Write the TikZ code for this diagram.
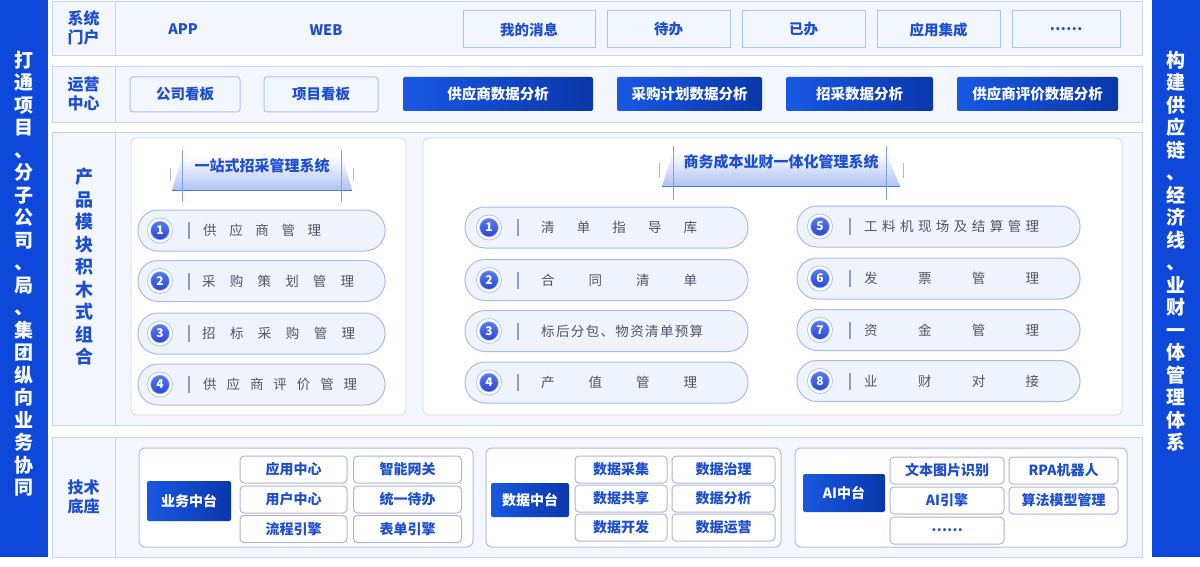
\documentclass[tikz,border=0pt]{standalone}
\usepackage{fontspec}
\setmainfont{Noto Sans CJK SC}
\definecolor{barBlue}{HTML}{0E48DA}
\definecolor{rowFill}{HTML}{F3F6FD}
\definecolor{rowBorder}{HTML}{C9D5F2}
\definecolor{portalFill}{HTML}{F2F6FE}
\definecolor{portalBorder}{HTML}{ADC3F2}
\definecolor{txtBlue}{HTML}{1D4ED0}
\definecolor{darkA}{HTML}{1858E2}
\definecolor{darkB}{HTML}{0A37AA}
\definecolor{panelBorder}{HTML}{D5DAE8}
\definecolor{pillFill}{HTML}{EFF3FC}
\definecolor{pillBorder}{HTML}{A7BCEC}
\definecolor{numA}{HTML}{5B7DF2}
\definecolor{numB}{HTML}{2443D4}
\definecolor{ringBlue}{HTML}{A9BFF0}
\definecolor{pillGray}{HTML}{4E5566}
\definecolor{divGray}{HTML}{8E9CC6}
\definecolor{groupBorder}{HTML}{B5BED8}
\definecolor{tileBorder}{HTML}{AFB8D2}
\definecolor{ribbonBlue}{HTML}{AFC3F3}
\definecolor{ribbonLine}{HTML}{4F76DE}
\newcommand{\barFont}{\fontsize{19}{22.5}\selectfont\bfseries}
\newcommand{\labelFont}{\fontsize{16}{19}\selectfont\bfseries}
\newcommand{\boxFont}{\fontsize{14.5}{17}\selectfont\bfseries}
\newcommand{\tileFont}{\fontsize{14}{16}\selectfont\bfseries}
\newcommand{\pillFont}{\fontsize{13.5}{16}\selectfont}
\newcommand{\spreadText}[2]{\hbox to #1{#2}}
\begin{document}
\begin{tikzpicture}[x=1pt,y=-1pt,
		sideBar/.style={rectangle, fill=barBlue, inner sep=0pt, minimum width=48, minimum height=557},
		sideText/.style={align=center, font=\barFont, text=white},
		rowBox/.style={rectangle, draw=rowBorder, fill=rowFill, line width=0.8pt, inner sep=0pt, minimum width=1090},
		rowLabel/.style={rectangle, draw=rowBorder, fill=rowFill, line width=0.8pt, inner sep=0pt, minimum width=63, align=center, font=\labelFont, text=txtBlue},
		portalBox/.style={rectangle, draw=portalBorder, fill=portalFill, line width=1pt, inner sep=0pt, minimum height=37, font=\boxFont, text=txtBlue},
		boardBox/.style={portalBox, rounded corners=3, minimum height=35},
		darkBox/.style={rectangle, rounded corners=2, left color=darkA, right color=darkB, inner sep=0pt, minimum height=34, font=\boxFont, text=white},
		panelBox/.style={rectangle, rounded corners=6, draw=panelBorder, fill=white, line width=0.8pt, minimum height=277},
		titleText/.style={font=\fontsize{15}{17}\selectfont\bfseries, text=txtBlue},
		pillBox/.style={rectangle, rounded corners=20, draw=pillBorder, fill=pillFill, line width=1pt, minimum height=41},
		numCircle/.style={circle, inner sep=0pt, minimum size=22, draw=ringBlue, line width=0.8pt, double=white, double distance=2.2pt, top color=numA, bottom color=numB, font=\fontsize{12}{12}\selectfont\bfseries, text=white},
		pillDivider/.style={rectangle, fill=divGray, inner sep=0pt, minimum width=1.2, minimum height=17},
		pillText/.style={anchor=west, inner sep=0pt, font=\pillFont, text=pillGray},
		groupBox/.style={rectangle, rounded corners=6, draw=groupBorder, fill=white, line width=1pt, minimum height=99},
		tileBox/.style={rectangle, rounded corners=4, draw=tileBorder, fill=white, line width=1pt, inner sep=0pt, minimum height=27, font=\tileFont, text=txtBlue}]
			\useasboundingbox (0,0) rectangle (1200,567);

			\node[sideBar](leftBar) at (24,278.5){};
			\node[sideText](leftText) at (24,274){打\\通\\项\\目\\、\\分\\子\\公\\司\\、\\局\\、\\集\\团\\纵\\向\\业\\务\\协\\同};
			\node[sideBar](rightBar) at (1176,278.5){};
			\node[sideText](rightText) at (1176,251.5){构\\建\\供\\应\\链\\、\\经\\济\\线\\、\\业\\财\\一\\体\\管\\理\\体\\系};

			\node[rowBox, minimum height=54](portalRow) at (597,28){};
			\node[rowLabel, minimum height=54](portalLabel) at (83.5,28){系统\\门户};
			\node[font=\boxFont, text=txtBlue](appText) at (183,29){APP};
			\node[font=\boxFont, text=txtBlue](webText) at (326,30){WEB};
			\node[portalBox, minimum width=132](msgBox) at (529,29.5){我的消息};
			\node[portalBox, minimum width=123](todoBox) at (668.5,29.5){待办};
			\node[portalBox, minimum width=123](doneBox) at (803.5,29.5){已办};
			\node[portalBox, minimum width=123](integBox) at (938.5,29.5){应用集成};
			\node[portalBox, minimum width=108](moreBox) at (1066,29.5){\textbf{……}};

			\node[rowBox, minimum height=56](opsRow) at (597,94){};
			\node[rowLabel, minimum height=56](opsLabel) at (83.5,94){运营\\中心};
			\node[boardBox, minimum width=110](companyBox) at (185,94.5){公司看板};
			\node[boardBox, minimum width=114](projectBox) at (321,94.5){项目看板};
			\node[darkBox, minimum width=190](supplierBox) at (498,94){供应商数据分析};
			\node[darkBox, minimum width=145](planBox) at (689.5,94){采购计划数据分析};
			\node[darkBox, minimum width=147](tenderBox) at (859.5,94){招采数据分析};
			\node[darkBox, minimum width=161](evalBox) at (1037.5,94){供应商评价数据分析};

			\node[rowBox, minimum height=293](moduleRow) at (597,278.5){};
			\node[rowLabel, minimum height=293](moduleLabel) at (83.5,278.5){};
			\node[align=center, font=\fontsize{18}{22.5}\selectfont\bfseries, text=txtBlue](moduleText) at (84,267){产\\品\\模\\块\\积\\木\\式\\组\\合};

			\node[panelBox, minimum width=275](procPanel) at (268.5,276.5){};
			\shade[top color=white, bottom color=ribbonBlue] (182,156) -- (342,156) -- (352,190) -- (172,190) -- cycle;
			\draw[ribbonLine, line width=0.8pt] (172,190) -- (352,190);
			\draw[ribbonLine!70, line width=0.8pt] (182,150) -- (182,202);
			\draw[ribbonLine!70, line width=0.8pt] (341,150) -- (341,202);
			\draw[ribbonLine!50, line width=0.8pt] (170,168) -- (170,181);
			\draw[ribbonLine!50, line width=0.8pt] (353,168) -- (353,181);
			\node[titleText](procTitle) at (262,166){一站式招采管理系统};

			\node[pillBox, minimum width=247](procPill1) at (261.5,230.5){};
			\node[pillBox, minimum width=247](procPill2) at (261.5,281){};
			\node[pillBox, minimum width=247](procPill3) at (261.5,333.5){};
			\node[pillBox, minimum width=247](procPill4) at (261.5,384.5){};
			\node[numCircle](procNum1) at (160,230.5){1};
			\node[numCircle](procNum2) at (160,281){2};
			\node[numCircle](procNum3) at (160,333.5){3};
			\node[numCircle](procNum4) at (160,384.5){4};
			\node[pillDivider](procDiv1) at (189,230.5){};
			\node[pillDivider](procDiv2) at (189,281){};
			\node[pillDivider](procDiv3) at (189,333.5){};
			\node[pillDivider](procDiv4) at (189,384.5){};
			\node[pillText](procText1) at (203,230.5){\spreadText{118pt}{供\hfil 应\hfil 商\hfil 管\hfil 理}};
			\node[pillText](procText2) at (202,281){\spreadText{152pt}{采\hfil 购\hfil 策\hfil 划\hfil 管\hfil 理}};
			\node[pillText](procText3) at (202,333.5){\spreadText{153pt}{招\hfil 标\hfil 采\hfil 购\hfil 管\hfil 理}};
			\node[pillText](procText4) at (203,384.5){\spreadText{154pt}{供\hfil 应\hfil 商\hfil 评\hfil 价\hfil 管\hfil 理}};

			\node[panelBox, minimum width=699](costPanel) at (772.5,276.5){};
			\shade[top color=white, bottom color=ribbonBlue] (673,152) -- (886,152) -- (900,186) -- (662,186) -- cycle;
			\draw[ribbonLine, line width=0.8pt] (662,186) -- (900,186);
			\draw[ribbonLine!70, line width=0.8pt] (673,146) -- (673,200);
			\draw[ribbonLine!70, line width=0.8pt] (886,146) -- (886,200);
			\draw[ribbonLine!50, line width=0.8pt] (659,163) -- (659,178);
			\draw[ribbonLine!50, line width=0.8pt] (903,163) -- (903,178);
			\node[titleText](costTitle) at (781,162){商务成本业财一体化管理系统};

			\node[pillBox, minimum width=283](costPill1) at (606.5,227.5){};
			\node[pillBox, minimum width=283](costPill2) at (606.5,280){};
			\node[pillBox, minimum width=283](costPill3) at (606.5,331){};
			\node[pillBox, minimum width=283](costPill4) at (606.5,382.5){};
			\node[numCircle](costNum1) at (489,227.5){1};
			\node[numCircle](costNum2) at (489,280){2};
			\node[numCircle](costNum3) at (489,331){3};
			\node[numCircle](costNum4) at (489,382.5){4};
			\node[pillDivider](costDiv1) at (518,227.5){};
			\node[pillDivider](costDiv2) at (518,280){};
			\node[pillDivider](costDiv3) at (518,331){};
			\node[pillDivider](costDiv4) at (518,382.5){};
			\node[pillText](costText1) at (541,227.5){\spreadText{156pt}{清\hfil 单\hfil 指\hfil 导\hfil 库}};
			\node[pillText](costText2) at (541,280){\spreadText{156pt}{合\hfil 同\hfil 清\hfil 单}};
			\node[pillText](costText3) at (541,331){\spreadText{162pt}{标\hfil 后\hfil 分\hfil 包\hfil 、\hfil 物\hfil 资\hfil 清\hfil 单\hfil 预\hfil 算}};
			\node[pillText](costText4) at (541,382.5){\spreadText{156pt}{产\hfil 值\hfil 管\hfil 理}};

			\node[pillBox, minimum width=283](costPill5) at (938.5,226.5){};
			\node[pillBox, minimum width=283](costPill6) at (938.5,278.5){};
			\node[pillBox, minimum width=283](costPill7) at (938.5,330){};
			\node[pillBox, minimum width=283](costPill8) at (938.5,381){};
			\node[numCircle](costNum5) at (820,226.5){5};
			\node[numCircle](costNum6) at (820,278.5){6};
			\node[numCircle](costNum7) at (820,330){7};
			\node[numCircle](costNum8) at (820,381){8};
			\node[pillDivider](costDiv5) at (850,226.5){};
			\node[pillDivider](costDiv6) at (850,278.5){};
			\node[pillDivider](costDiv7) at (850,330){};
			\node[pillDivider](costDiv8) at (850,381){};
			\node[pillText](costText5) at (864,226.5){\spreadText{175pt}{工\hfil 料\hfil 机\hfil 现\hfil 场\hfil 及\hfil 结\hfil 算\hfil 管\hfil 理}};
			\node[pillText](costText6) at (864,278.5){\spreadText{175pt}{发\hfil 票\hfil 管\hfil 理}};
			\node[pillText](costText7) at (864,330){\spreadText{175pt}{资\hfil 金\hfil 管\hfil 理}};
			\node[pillText](costText8) at (864,381){\spreadText{175pt}{业\hfil 财\hfil 对\hfil 接}};

			\node[rowBox, minimum height=120](baseRow) at (597,497){};
			\node[rowLabel, minimum height=120](baseLabel) at (83.5,497){技术\\底座};

			\node[groupBox, minimum width=334](bizGroup) at (306,497.5){};
			\node[darkBox, minimum width=84, minimum height=40, font=\tileFont](bizHub) at (189,501){业务中台};
			\node[tileBox, minimum width=107](appCenter) at (293.5,469.5){应用中心};
			\node[tileBox, minimum width=108](gateway) at (407.5,469.5){智能网关};
			\node[tileBox, minimum width=107](userCenter) at (293.5,499.5){用户中心};
			\node[tileBox, minimum width=108](unifiedTodo) at (407.5,499.5){统一待办};
			\node[tileBox, minimum width=107](flowEngine) at (293.5,529){流程引擎};
			\node[tileBox, minimum width=108](formEngine) at (407.5,529){表单引擎};

			\node[groupBox, minimum width=295](dataGroup) at (633.5,497.5){};
			\node[darkBox, minimum width=78, font=\tileFont](dataHub) at (530,500){数据中台};
			\node[tileBox, minimum width=92](dataCollect) at (621,469.5){数据采集};
			\node[tileBox, minimum width=103](dataGovern) at (723.5,469.5){数据治理};
			\node[tileBox, minimum width=92](dataShare) at (621,498.5){数据共享};
			\node[tileBox, minimum width=103](dataAnalyze) at (723.5,498.5){数据分析};
			\node[tileBox, minimum width=92](dataDevelop) at (621,527.5){数据开发};
			\node[tileBox, minimum width=103](dataOperate) at (723.5,527.5){数据运营};

			\node[groupBox, minimum width=332](aiGroup) at (961,497.5){};
			\node[darkBox, minimum width=82, minimum height=38, font=\tileFont](aiHub) at (844,493){AI中台};
			\node[tileBox, minimum width=114](ocrTile) at (947,470.5){文本图片识别};
			\node[tileBox, minimum width=109](rpaTile) at (1063.5,470.5){RPA机器人};
			\node[tileBox, minimum width=114](aiEngine) at (947,500.5){AI引擎};
			\node[tileBox, minimum width=109](modelTile) at (1063.5,500.5){算法模型管理};
			\node[tileBox, minimum width=114](aiMore) at (947,530.5){……};
		\end{tikzpicture}
\end{document}
